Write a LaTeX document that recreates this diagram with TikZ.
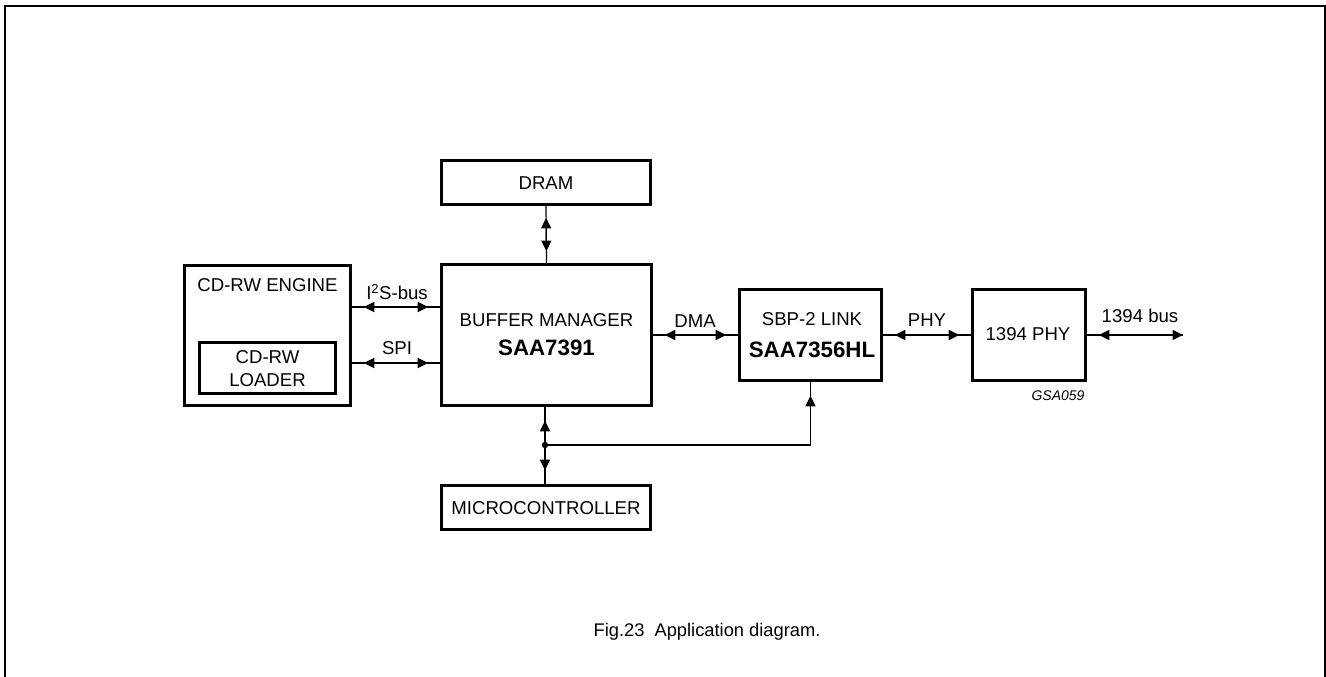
\documentclass[tikz,border=0pt]{standalone}
\usepackage{fontspec}
\setmainfont{Liberation Sans}
\usetikzlibrary{arrows.meta}
\tikzset{
  blk/.style={draw, line width=2.6pt, inner sep=0pt},
  txt/.style={inner sep=0pt, font=\fontsize{18.6}{21}\selectfont},
  btxt/.style={inner sep=0pt, font=\fontsize{22.3}{25}\selectfont\bfseries},
  conn/.style={line width=1.2pt},
  tip/.tip={Triangle[length=10.5pt,width=10pt]},
  arr/.style={line width=1.2pt, {tip}-{tip}, shorten <=12pt, shorten >=12pt},
  arrone/.style={line width=1.2pt, -{tip}, shorten >=14pt},
}
\begin{document}
\begin{tikzpicture}[x=1pt,y=-1pt]
\useasboundingbox (0,0) rectangle (1326,677);
% outer frame
\draw[line width=1.8pt] (5,700) -- (5,6) -- (1325,6) -- (1325,700);

% blocks
\node[blk, minimum width=166pt, minimum height=140pt] (engine) at (267.5,335.5) {};
\node[blk, minimum width=136pt, minimum height=51pt] (loader) at (267.5,368) {};
\node[blk, minimum width=210pt, minimum height=141pt] (buffer) at (546.5,335) {};
\node[blk, minimum width=209pt, minimum height=44pt] (dram) at (546,182.5) {};
\node[blk, minimum width=209pt, minimum height=44pt] (micro) at (546,507.5) {};
\node[blk, minimum width=142pt, minimum height=91pt] (sbp) at (810.5,335) {};
\node[blk, minimum width=113pt, minimum height=91pt] (phy) at (1029,335) {};

% texts
\node[txt] (tengine) at (267.5,285) {CD-RW ENGINE};
\node[txt] (tloader1) at (267.5,357) {CD-RW};
\node[txt] (tloader2) at (267.5,380) {LOADER};
\node[txt] (tbuf) at (546.5,320) {BUFFER MANAGER};
\node[btxt] (tsaa1) at (546.5,348) {SAA7391};
\node[txt] (tdram) at (546,183) {DRAM};
\node[txt] (tmicro) at (546,508) {MICROCONTROLLER};
\node[txt] (tsbp) at (812,319) {SBP-2 LINK};
\node[btxt] (tsaa2) at (812,350) {SAA7356HL};
\node[txt] (tphy) at (1028,334) {1394 PHY};
\node[txt] (li2s) at (397,292) {I\textsuperscript{2}S-bus};
\node[txt] (lspi) at (397,348) {SPI};
\node[txt] (ldma) at (695,321) {DMA};
\node[txt] (lphy) at (927,320) {PHY};
\node[txt] (lbus) at (1140,316) {1394 bus};
\node[inner sep=0pt, font=\fontsize{14}{16}\selectfont\itshape] (gsa) at (1058,396) {GSA059};
\node[inner sep=0pt, font=\fontsize{18.3}{21}\selectfont] (cap) at (707,632) {Fig.23\ \ Application diagram.};

% connectors
\coordinate (i2sA) at ([yshift=28.5pt]engine.east);
\coordinate (i2sB) at (i2sA -| buffer.west);
\coordinate (spiA) at ([yshift=-27.5pt]engine.east);
\coordinate (spiB) at (spiA -| buffer.west);
\draw[conn] (i2sA) -- (i2sB);
\draw[arr] (i2sA) -- (i2sB);
\draw[conn] (spiA) -- (spiB);
\draw[arr] (spiA) -- (spiB);

\coordinate (dmaA) at (buffer.east);
\coordinate (dmaB) at (dmaA -| sbp.west);
\draw[conn] (dmaA) -- (dmaB);
\draw[arr] (dmaA) -- (dmaB);

\draw[conn] (sbp.east) -- (phy.west);
\draw[arr] (sbp.east) -- (phy.west);

\coordinate (busEnd) at (1183,335);
\draw[conn] (phy.east) -- (busEnd);
\draw[line width=1.2pt, {tip}-{tip}, shorten <=12pt] (phy.east) -- (busEnd);

\draw[conn] (dram.south) -- (buffer.north);
\draw[arr] (dram.south) -- (buffer.north);

% microcontroller bus with junction
\coordinate (junc) at (545,445);
\coordinate (sbpIn) at (sbp.south |- junc);
\draw[conn] (buffer.south -| junc) -- (micro.north -| junc);
\draw[arrone] (junc) -- (buffer.south -| junc);
\draw[arrone] (junc) -- (micro.north -| junc);
\draw[conn] (junc) -- (sbpIn) -- (sbp.south);
\draw[arrone] (sbpIn) -- (sbp.south);
\fill (junc) circle (3.2pt);
\end{tikzpicture}
\end{document}
